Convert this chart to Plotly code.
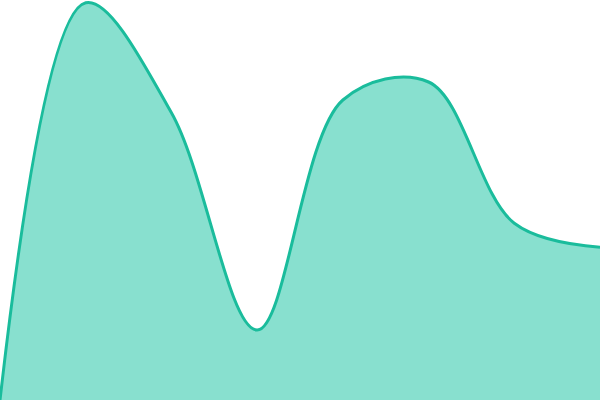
import plotly.graph_objects as go

x_vals = [0, 1, 2, 3, 4, 5, 6, 7]
y_vals = [0, 99.3, 71.8, 17.5, 75, 79.5, 44.2, 38.2]

fig = go.Figure()
fig.add_trace(go.Scatter(
    x=x_vals,
    y=y_vals,
    mode='lines',
    line=dict(color='#1abc9c', width=3, shape='spline', smoothing=1),
    fill='tozeroy',
    fillcolor='#88e0cf',
    hoverinfo='skip',
))
fig.update_layout(
    width=600, height=400,
    margin=dict(l=0, r=0, t=0, b=0),
    paper_bgcolor='white',
    plot_bgcolor='white',
    showlegend=False,
    xaxis=dict(visible=False, range=[0, 7], fixedrange=True),
    yaxis=dict(visible=False, range=[0, 100], fixedrange=True),
)
# page body has an 8px margin by default, drop it so the plot fills the window
fig.write_html("out.html",
               config={'displayModeBar': False, 'staticPlot': True},
               post_script="document.body.style.margin='0';document.body.style.overflow='hidden';")
